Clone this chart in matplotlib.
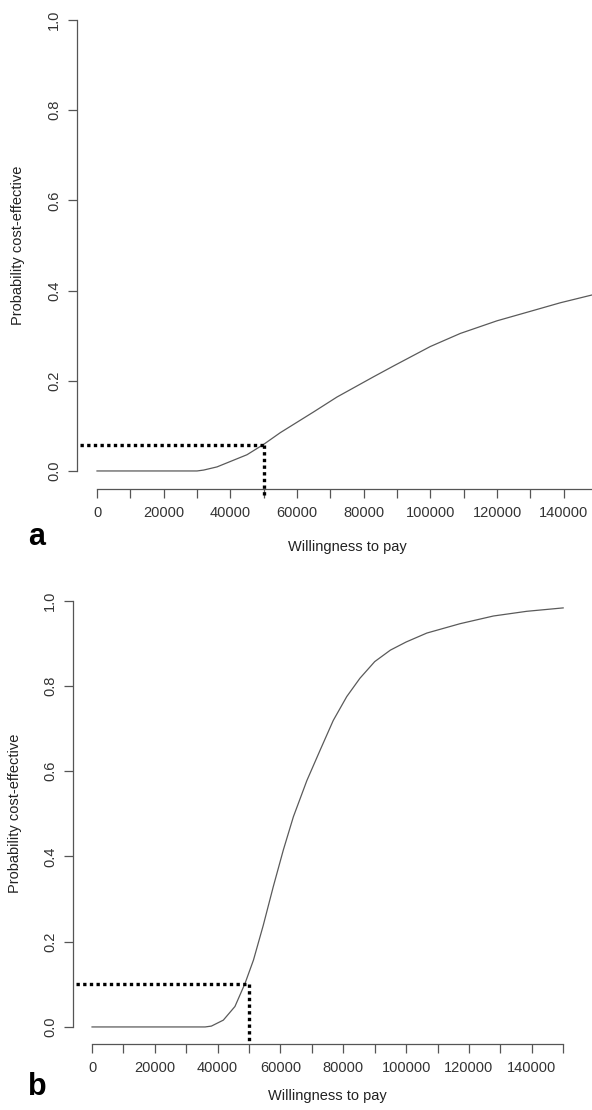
import matplotlib
matplotlib.use("Agg")
import matplotlib.pyplot as plt

plt.rcParams['font.family'] = ['Liberation Sans', 'DejaVu Sans']

# curve a: probability cost-effective vs willingness to pay
wtp_a = [0, 30000, 32000, 36000, 40000, 45000, 50000, 55000, 60000, 65000,
         72000, 83000, 89000, 100000, 109000, 120000, 130000, 139000, 150000]
prob_a = [0, 0, 0.002, 0.009, 0.021, 0.036, 0.059, 0.085, 0.108, 0.131,
          0.164, 0.209, 0.233, 0.276, 0.305, 0.333, 0.354, 0.373, 0.393]

# curve b
wtp_b = [0, 36000, 38000, 41800, 45500, 48700, 51400, 54500, 57700, 60900,
         64100, 68400, 72600, 76800, 81100, 85300, 90000, 95000, 100000,
         106600, 117200, 127800, 138400, 150000]
prob_b = [0, 0, 0.002, 0.016, 0.048, 0.102, 0.157, 0.238, 0.329, 0.415,
          0.493, 0.578, 0.649, 0.719, 0.775, 0.818, 0.857, 0.884, 0.903,
          0.924, 0.946, 0.964, 0.975, 0.983]

# threshold markers (dotted)
threshold = 50000
thr_prob = {'a': 0.058, 'b': 0.100}
thr_start = -5000
thr_bottom = {'a': -0.053, 'b': -0.033}

x_ticks = list(range(0, 150001, 10000))
x_labels = [str(v) if v % 20000 == 0 and v < 150000 else '' for v in x_ticks]
y_ticks = [0.0, 0.2, 0.4, 0.6, 0.8, 1.0]
y_labels = ['0.0', '0.2', '0.4', '0.6', '0.8', '1.0']

W, H = 592, 1110
fig = plt.figure(figsize=(W / 100, H / 100), dpi=100)

# axes rectangles in pixels: left, right, top, bottom
boxes = {
    'a': (77, 617, 2, 489),
    'b': (73.2, 582, 583.6, 1044),
}
curves = {'a': (wtp_a, prob_a), 'b': (wtp_b, prob_b)}
xlabelpad = {'a': 14, 'b': 10}
ylabelpad = {'a': 16, 'b': 15}
letter_pos = {'a': (37, 545), 'b': (37, 1095)}

for key in ['a', 'b']:
    l, r, t, b = boxes[key]
    ax = fig.add_axes([l / W, (H - b) / H, (r - l) / W, (b - t) / H])
    x, y = curves[key]
    ax.plot(x, y, color='#5a5a5a', lw=0.9)
    p = thr_prob[key]
    ax.plot([thr_start, threshold], [p, p], color='black', lw=2.4,
            linestyle=(0, (1, 1)), dash_capstyle='butt', clip_on=False)
    ax.plot([threshold, threshold], [p, thr_bottom[key]], color='black', lw=2.4,
            linestyle=(0, (1, 1)), dash_capstyle='butt', clip_on=False)

    ax.set_xlim(-6000, 156000)
    ax.set_ylim(-0.04, 1.04)
    for s in ['top', 'right']:
        ax.spines[s].set_visible(False)
    ax.spines['left'].set_bounds(0, 1)
    ax.spines['bottom'].set_bounds(0, 150000)
    for s in ['left', 'bottom']:
        ax.spines[s].set_color('#555555')
        ax.spines[s].set_linewidth(0.9)

    ax.set_xticks(x_ticks)
    ax.set_xticklabels(x_labels)
    ax.set_yticks(y_ticks)
    ax.set_yticklabels(y_labels, rotation=90, va='center')
    ax.tick_params(direction='out', length=6.5, width=0.9, color='#555555',
                   labelsize=10.5, labelcolor='#333333')
    ax.tick_params(axis='x', pad=6)
    ax.tick_params(axis='y', pad=5)

    ax.set_xlabel('Willingness to pay', fontsize=10.5, color='#222222',
                  labelpad=xlabelpad[key])
    ax.set_ylabel('Probability cost-effective', fontsize=10.5, color='#222222',
                  labelpad=ylabelpad[key])

    lx, ly = letter_pos[key]
    fig.text(lx / W, (H - ly) / H, key, fontsize=22, fontweight='bold',
             ha='center', va='baseline')

fig.savefig('out.png', dpi=100, facecolor='white')
